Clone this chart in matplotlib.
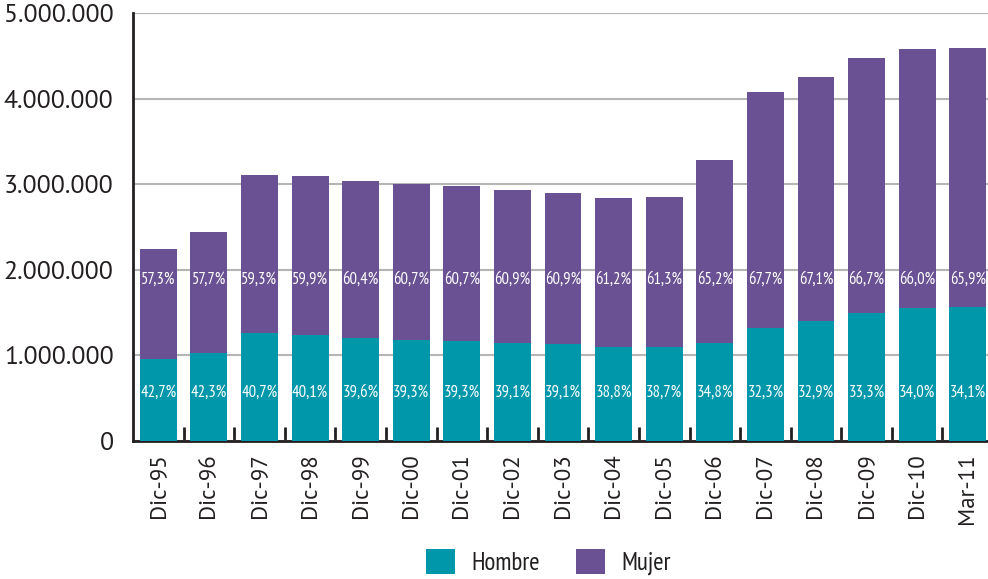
import matplotlib.pyplot as plt
from matplotlib.ticker import FuncFormatter
import numpy as np

# datos (personas)
periodos = ['Dic-95', 'Dic-96', 'Dic-97', 'Dic-98', 'Dic-99', 'Dic-00', 'Dic-01',
            'Dic-02', 'Dic-03', 'Dic-04', 'Dic-05', 'Dic-06', 'Dic-07', 'Dic-08',
            'Dic-09', 'Dic-10', 'Mar-11']
hombre = [958000, 1032000, 1265000, 1241000, 1203000, 1181000, 1171000,
          1146000, 1133000, 1102000, 1103000, 1142000, 1317000, 1399000,
          1490000, 1557000, 1566000]
mujer = [1285000, 1408000, 1842000, 1855000, 1834000, 1825000, 1808000,
         1786000, 1764000, 1737000, 1747000, 2141000, 2760000, 2853000,
         2984000, 3022000, 3025000]
pct_hombre = ['42,7%', '42,3%', '40,7%', '40,1%', '39,6%', '39,3%', '39,3%',
              '39,1%', '39,1%', '38,8%', '38,7%', '34,8%', '32,3%', '32,9%',
              '33,3%', '34,0%', '34,1%']
pct_mujer = ['57,3%', '57,7%', '59,3%', '59,9%', '60,4%', '60,7%', '60,7%',
             '60,9%', '60,9%', '61,2%', '61,3%', '65,2%', '67,7%', '67,1%',
             '66,7%', '66,0%', '65,9%']

teal = '#0097ab'
morado = '#695193'
texto = '#231f20'

plt.rcParams['font.family'] = ['PT Sans', 'DejaVu Sans']
estrecha = ['PT Sans Narrow', 'DejaVu Sans']

fig = plt.figure(figsize=(9.88, 5.79), dpi=100)
ax = fig.add_axes([0.1346, 0.2383, 0.8654, 0.7392])

x = np.arange(len(periodos))
ax.bar(x, hombre, width=0.73, color=teal, label='Hombre', zorder=3)
ax.bar(x, mujer, width=0.73, bottom=hombre, color=morado, label='Mujer', zorder=3)

# etiquetas de porcentaje a altura fija
for i in x:
    ax.text(i, 560000, pct_hombre[i], color='white', ha='center', va='center',
            fontsize=12, family=estrecha, zorder=4)
    ax.text(i, 1880000, pct_mujer[i], color='white', ha='center', va='center',
            fontsize=12, family=estrecha, zorder=4)

ax.set_xlim(-0.5, 16.4)
ax.set_ylim(0, 5000000)
ax.set_yticks(np.arange(0, 5000001, 1000000))
ax.yaxis.set_major_formatter(FuncFormatter(lambda v, p: f'{int(v):,}'.replace(',', '.')))
ax.tick_params(axis='y', length=0, pad=14, labelsize=18.5, labelcolor=texto)
ax.yaxis.grid(True, color='#b5b5b5', linewidth=1.5, zorder=0)

ax.set_xticks(x)
ax.set_xticklabels(periodos, rotation=90, fontsize=16.5, color=texto)
ax.set_xticks(x[:-1] + 0.5, minor=True)
ax.tick_params(axis='x', which='major', length=0, pad=9)
ax.tick_params(axis='x', which='minor', direction='in', length=10, width=2, color=texto)

for lado in ['top', 'right']:
    ax.spines[lado].set_visible(False)
for lado in ['left', 'bottom']:
    ax.spines[lado].set_linewidth(2)
    ax.spines[lado].set_color(texto)

fig.legend(loc='center', bbox_to_anchor=(0.555, 0.029), ncol=2, frameon=False,
           prop={'family': estrecha, 'size': 18}, handlelength=1.15,
           handleheight=1.15, handletextpad=0.65, columnspacing=1.45,
           borderpad=0, labelcolor=texto)

fig.savefig('out.png', dpi=100)
